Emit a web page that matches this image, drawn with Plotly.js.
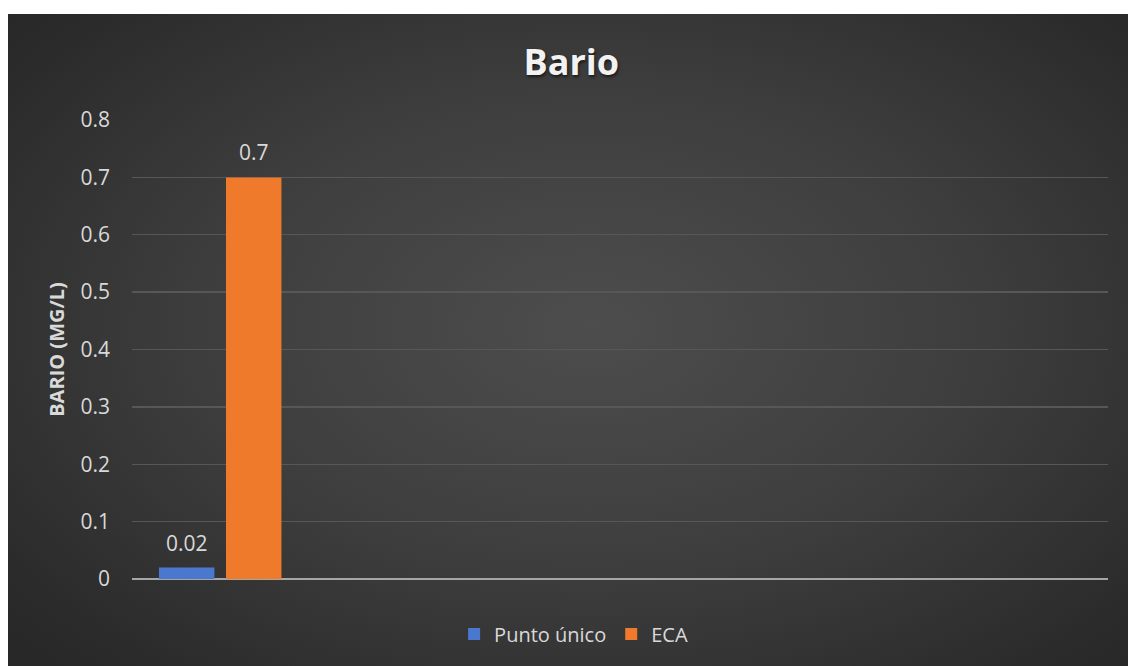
<!DOCTYPE html>
<html>
<head>
<meta charset="utf-8">
<script src="https://cdn.plot.ly/plotly-3.0.1.min.js"></script>
<style>
  html, body { margin: 0; padding: 0; background: #ffffff; width: 1128px; height: 666px; overflow: hidden; }
  #frame {
    position: absolute; left: 8px; top: 14px; width: 1120px; height: 652px;
    background: radial-gradient(ellipse 75% 80% at 52% 48%, #4d4d4d 0%, #3e3e3e 45%, #2a2a2a 85%, #262626 100%);
  }
  #chart { width: 1120px; height: 652px; }
</style>
</head>
<body>
<div id="frame"><div id="chart"></div></div>
<script>
// ---- data ----
const categories = [""];
const seriesNames = ["Punto único", "ECA"];
const puntoUnico = [0.02];
const eca = [0.7];
const yTickValues = [0, 0.1, 0.2, 0.3, 0.4, 0.5, 0.6, 0.7, 0.8];
const yTickLabels = ["0", "0.1", "0.2", "0.3", "0.4", "0.5", "0.6", "0.7", "0.8"];

const FONT = "Open Sans, Noto Sans, sans-serif";
const labelFont = { family: FONT, size: 21, color: "#d9d9d9" };

// bar geometry (in category units)
const barWidth = 0.315;
const offsets = [-0.347, 0.034];
const seriesValues = [puntoUnico, eca];
const seriesColors = ["#4a78cf", "#ef7a2c"];

const traces = seriesValues.map((vals, i) => ({
  type: "bar", name: seriesNames[i], x: categories, y: vals,
  width: barWidth, offset: offsets[i],
  marker: { color: seriesColors[i], line: { width: 0 } },
  hoverinfo: "skip"
}));

// data labels above bars, placed with the axes' own scales
const annotations = [];
seriesValues.forEach((vals, i) => {
  vals.forEach((v, j) => {
    annotations.push({
      xref: "x", yref: "y", x: j + offsets[i] + barWidth / 2, y: v,
      text: String(v), showarrow: false, xanchor: "center", yanchor: "bottom",
      yshift: 9, font: labelFont
    });
  });
});

const layout = {
  width: 1120, height: 652,
  paper_bgcolor: "rgba(0,0,0,0)", plot_bgcolor: "rgba(0,0,0,0)",
  margin: { l: 124, r: 20, t: 106, b: 87, pad: 0 },
  barmode: "group",
  showlegend: true,
  annotations: annotations,
  title: {
    text: "<b>Bario</b>",
    font: { family: FONT, size: 36, color: "#f2f2f2",
            shadow: "1px 2px 3px rgba(0,0,0,0.6)" },
    x: 0.503, xanchor: "center", xref: "container",
    y: 1 - 48 / 652, yanchor: "middle", yref: "container"
  },
  xaxis: {
    type: "category", range: [-0.5, 5.045], showticklabels: false, ticks: "",
    showgrid: false, zeroline: false, showline: false, fixedrange: true
  },
  yaxis: {
    range: [0, 0.8], tickvals: yTickValues, ticktext: yTickLabels,
    tickfont: labelFont, ticks: "", ticklabelstandoff: 21,
    showgrid: true, gridcolor: "#575757", gridwidth: 1.3,
    zeroline: true, zerolinecolor: "#a6a6a6", zerolinewidth: 2.5,
    showline: false,
    title: {
      text: "<b>BARIO (MG/L)</b>",
      font: { family: FONT, size: 20, color: "#d9d9d9" },
      standoff: 10
    }
  },
  legend: {
    orientation: "h", x: 0.505, xanchor: "center", xref: "container",
    y: 1 - 620 / 652, yanchor: "middle", yref: "container",
    font: { family: FONT, size: 20, color: "#d9d9d9" },
    bgcolor: "rgba(0,0,0,0)", itemwidth: 30, traceorder: "normal"
  }
};

Plotly.newPlot("chart", traces, layout, { displayModeBar: false, staticPlot: true });
</script>
</body>
</html>
